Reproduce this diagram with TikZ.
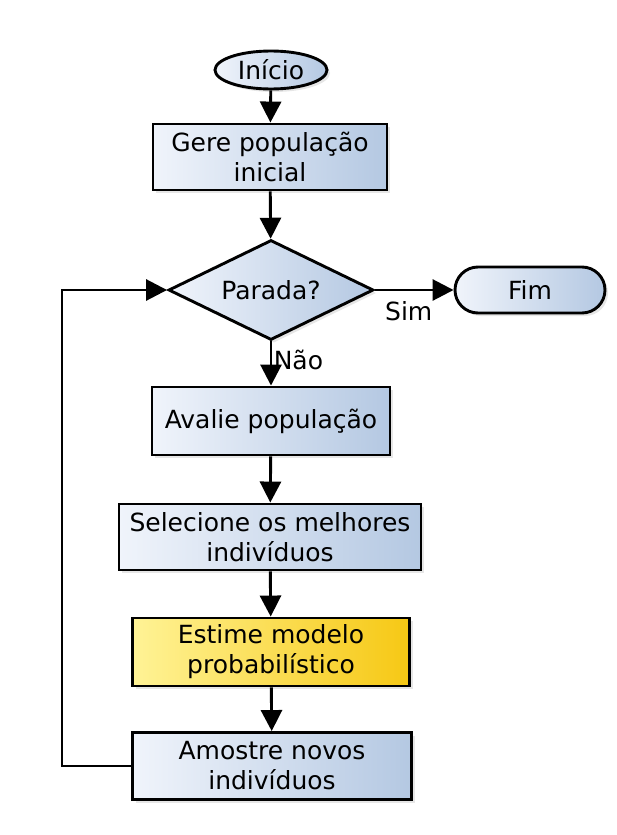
\documentclass[tikz,border=0pt]{standalone}
\usepackage{fontspec}
\setmainfont{DejaVu Sans}
\usetikzlibrary{arrows.meta,shapes.geometric,shadows}

\definecolor{azulclaro}{RGB}{240,244,251}
\definecolor{azulescuro}{RGB}{180,200,226}
\definecolor{amareloclaro}{RGB}{255,243,150}
\definecolor{amareloescuro}{RGB}{246,200,20}

\tikzset{
  caixa/.style={draw, line width=2.9pt, left color=azulclaro, right color=azulescuro,
    minimum height=66pt, align=center, inner sep=4pt,
    drop shadow={opacity=0.2, shadow xshift=3pt, shadow yshift=-3pt}},
  destaque/.style={caixa, left color=amareloclaro, right color=amareloescuro},
  terminal/.style={caixa, rounded corners=23pt, minimum height=46pt},
  decisao/.style={caixa, diamond, aspect=2.05, inner sep=0pt, minimum width=205pt, minimum height=100pt},
  seta/.style={line width=2.9pt, -{Triangle[length=21pt, width=21pt]}}
}

\begin{document}
\begin{tikzpicture}[x=1pt, y=-1pt, font=\fontsize{25}{30}\selectfont]
    \useasboundingbox (0,0) rectangle (617,835);

    % inicio e geracao
    \node[caixa, ellipse, minimum width=112pt, minimum height=38pt, inner sep=0pt] (inicio) at (271,70) {Início};
    \node[caixa, minimum width=234pt] (gere) at (270,157) {Gere população\\inicial};

    % criterio de parada
    \node[decisao] (parada) at (271,290) {Parada?};
    \node[terminal, minimum width=150pt] (fim) at (530,290) {Fim};

    % laco principal
    \node[caixa, minimum width=238pt, minimum height=68pt] (avalie) at (271,421) {Avalie população};
    \node[caixa, minimum width=302pt] (selecione) at (270,537) {Selecione os melhores\\indivíduos};
    \node[destaque, minimum width=277pt, minimum height=68pt] (estime) at (271,652) {Estime modelo\\probabilístico};
    \node[caixa, minimum width=279pt, minimum height=67pt] (amostre) at (272,766) {Amostre novos\\indivíduos};
    \coordinate (volta) at (62,766);

    % setas
    \draw[seta] (inicio) -- (gere);
    \draw[seta] (gere) -- (parada);
    \draw[seta] (parada.east) -- (fim.west) node[pos=0.43, below=7pt] {Sim};
    \draw[seta] (parada.south) -- (avalie.north) node[pos=0.42, right=-2pt] {Não};
    \draw[seta] (avalie) -- (selecione);
    \draw[seta] (selecione) -- (estime);
    \draw[seta] (estime) -- (amostre);
    \draw[seta] (amostre.west) -- (volta) |- (parada.west);
  \end{tikzpicture}
\end{document}
